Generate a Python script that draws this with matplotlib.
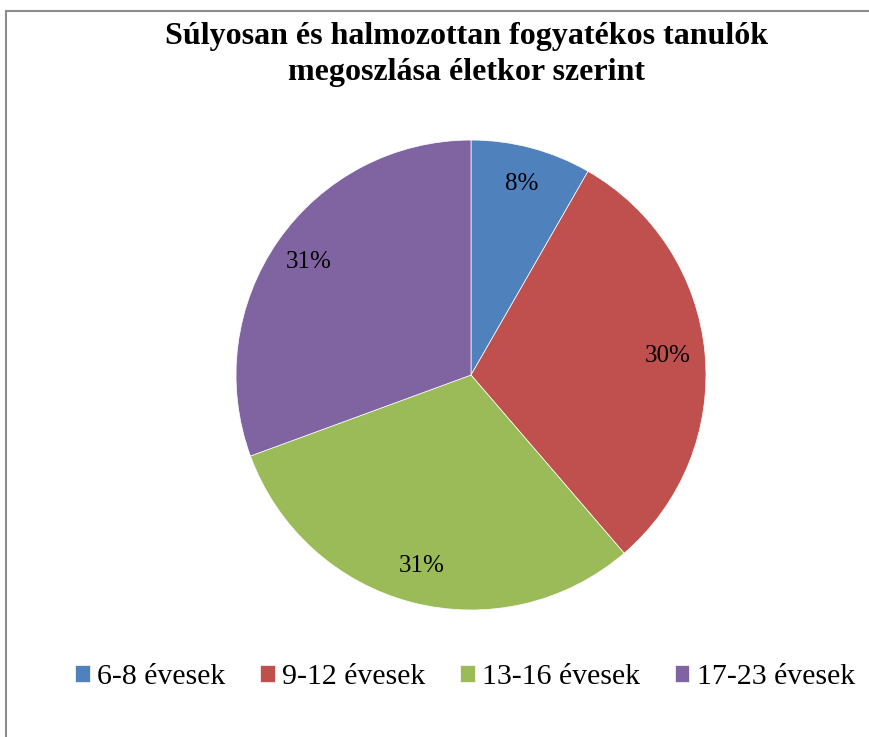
import matplotlib.pyplot as plt
from matplotlib.patches import Rectangle

# Age groups and their share (percent) of the pupils
age_groups = ['6-8 évesek', '9-12 évesek', '13-16 évesek', '17-23 évesek']
shares = [8.3, 30.4, 30.7, 30.6]
colors = ['#4F81BD', '#C0504D', '#9BBB59', '#8064A2']

title = 'Súlyosan és halmozottan fogyatékos tanulók\nmegoszlása életkor szerint'

plt.rcParams['font.family'] = ['Liberation Serif', 'DejaVu Serif']

fig = plt.figure(figsize=(8.69, 7.37), dpi=100)

# Pie axes: centre and radius picked to match the reference
ax = fig.add_axes([0.2716, 0.1723, 0.5408, 0.6377])
wedges, texts, autotexts = ax.pie(
    shares, colors=colors, startangle=90, counterclock=False,
    autopct=lambda p: '%d%%' % round(p), pctdistance=0.84,
    wedgeprops={'linewidth': 0.5, 'edgecolor': 'white'},
    textprops={'fontsize': 18, 'color': 'black'})
ax.set_xlim(-1, 1)
ax.set_ylim(-1, 1)
ax.set_aspect('equal')

fig.text(0.537, 0.926, title, ha='center', va='center', fontsize=23,
         fontweight='bold', linespacing=1.3)

fig.legend(wedges, age_groups, loc='center', bbox_to_anchor=(0.535, 0.081),
           ncol=4, frameon=False, fontsize=21.5, handlelength=0.5,
           handleheight=0.5, handletextpad=0.25, columnspacing=1.15)

# grey frame around the chart area
frame = Rectangle((6 / 869, -0.05), 1.1, 1 - 11 / 737 + 0.05,
                  transform=fig.transFigure, fill=False,
                  edgecolor='#8c8c8c', linewidth=1.5, clip_on=False)
fig.patches.append(frame)

fig.savefig('out.png', dpi=100)
